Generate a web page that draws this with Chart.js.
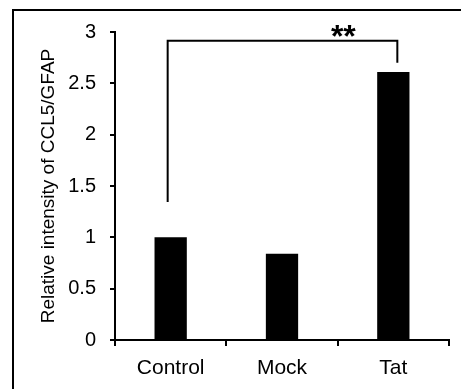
<!DOCTYPE html>
<html>
<head>
<meta charset="utf-8">
<script src="https://cdn.jsdelivr.net/npm/chart.js@4"></script>
<style>
html,body{margin:0;padding:0;background:#fff;}
#wrap{width:461px;height:389px;position:relative;}
</style>
</head>
<body>
<div id="wrap"><canvas id="c" width="461" height="389"></canvas></div>
<script>
const categories = ["Control", "Mock", "Tat"];
const values = [1.0, 0.84, 2.61];
const yTicks = [0, 0.5, 1, 1.5, 2, 2.5, 3];
const yTickLabels = ["0", "0.5", "1", "1.5", "2", "2.5", "3"];
const yTitle = "Relative intensity of CCL5/GFAP";
// significance bracket: from Control to Tat
const bracketFrom = "Control";
const bracketTo = "Tat";
const bracketLevels = [1.345, 2.915, 2.70]; // left leg bottom, top bar, right leg bottom
const bracketLabel = "**";

const FONT = "'Liberation Sans', Arial, sans-serif";

const framePlugin = {
  id: 'frame',
  afterDraw(chart) {
    const ctx = chart.ctx;
    ctx.save();
    ctx.strokeStyle = '#000';
    ctx.lineWidth = 2;
    ctx.beginPath();
    ctx.moveTo(13, 389);
    ctx.lineTo(13, 10);
    ctx.lineTo(461, 10);
    ctx.stroke();
    ctx.restore();
  }
};

const bracketPlugin = {
  id: 'bracket',
  afterDatasetsDraw(chart) {
    const x = chart.scales.x, y = chart.scales.y, ctx = chart.ctx;
    const x1 = x.getPixelForValue(categories.indexOf(bracketFrom)) - 3;
    const x2 = x.getPixelForValue(categories.indexOf(bracketTo)) + 4;
    const yl = y.getPixelForValue(bracketLevels[0]);
    const yt = y.getPixelForValue(bracketLevels[1]);
    const yr = y.getPixelForValue(bracketLevels[2]);
    ctx.save();
    ctx.strokeStyle = '#000';
    ctx.lineWidth = 2;
    ctx.beginPath();
    ctx.moveTo(x1, yl);
    ctx.lineTo(x1, yt);
    ctx.lineTo(x2, yt);
    ctx.lineTo(x2, yr);
    ctx.stroke();
    ctx.fillStyle = '#000';
    ctx.font = "bold 32px " + FONT;
    ctx.textAlign = 'center';
    ctx.textBaseline = 'alphabetic';
    ctx.fillText(bracketLabel, x2 - 54, yt + 6);
    ctx.restore();
  }
};

new Chart(document.getElementById('c'), {
  type: 'bar',
  data: {
    labels: categories,
    datasets: [{
      data: values,
      backgroundColor: '#000',
      borderWidth: 0,
      barPercentage: 0.29,
      categoryPercentage: 1.0
    }]
  },
  options: {
    responsive: false,
    animation: false,
    devicePixelRatio: 1,
    layout: { padding: { left: 37, right: 12, top: 32, bottom: 0 } },
    plugins: { legend: { display: false }, tooltip: { enabled: false } },
    scales: {
      x: {
        offset: true,
        grid: { display: true, drawOnChartArea: false, drawTicks: true, tickLength: 6, color: '#000', lineWidth: 2, offset: true },
        border: { display: true, color: '#000', width: 2 },
        ticks: { color: '#000', font: { family: FONT, size: 21 }, padding: 10 },
        afterFit(s) { s.height = 49; }
      },
      y: {
        min: 0, max: 3,
        afterBuildTicks(s) { s.ticks = yTicks.map(v => ({ value: v })); },
        grid: { display: true, drawOnChartArea: false, drawTicks: true, tickLength: 5, color: '#000', lineWidth: 2 },
        border: { display: true, color: '#000', width: 2 },
        ticks: {
          color: '#000', font: { family: FONT, size: 20 }, padding: 14,
          callback(v) { const i = yTicks.indexOf(v); return i >= 0 ? yTickLabels[i] : ''; }
        },
        title: { display: true, text: yTitle, color: '#000', font: { family: FONT, size: 19 }, padding: 0 },
        afterFit(s) { s.width = 78; }
      }
    }
  },
  plugins: [framePlugin, bracketPlugin]
});
</script>
</body>
</html>
